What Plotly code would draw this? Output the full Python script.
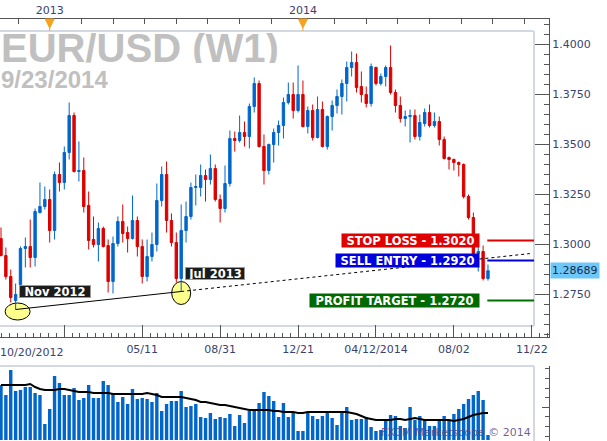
import plotly.graph_objects as go
import pandas as pd
import numpy as np

# ---------------- data ----------------
start = pd.Timestamp('2012-10-20')
dates = pd.date_range(start, periods=101, freq='7D')

opens = [1.3030, 1.2945, 1.2840, 1.2720, 1.2800, 1.2980, 1.2990, 1.2935, 1.3160, 1.3190,
         1.3225, 1.3070, 1.3350, 1.3310, 1.3460, 1.3645, 1.3365, 1.3370, 1.3195, 1.3025,
         1.3000, 1.3080, 1.2995, 1.2815, 1.3005, 1.3115, 1.3060, 1.3030, 1.3120, 1.2990,
         1.2840, 1.2940, 1.3000, 1.3220, 1.3350, 1.3120, 1.3010, 1.2830, 1.3070, 1.3140,
         1.3285, 1.3285, 1.3345, 1.3325, 1.3380, 1.3225, 1.3180, 1.3305, 1.3530, 1.3520,
         1.3560, 1.3540, 1.3690, 1.3805, 1.3490, 1.3370, 1.3500, 1.3560, 1.3595, 1.3710,
         1.3750, 1.3670, 1.3750, 1.3590, 1.3670, 1.3535, 1.3675, 1.3490, 1.3640, 1.3695,
         1.3740, 1.3805, 1.3885, 1.3910, 1.3790, 1.3750, 1.3705, 1.3885, 1.3805, 1.3840,
         1.3885, 1.3760, 1.3695, 1.3630, 1.3640, 1.3645, 1.3540, 1.3605, 1.3660, 1.3595,
         1.3615, 1.3525, 1.3435, 1.3425, 1.3410, 1.3400, 1.3240, 1.3135, 1.2955, 1.2965,
         1.2830]
highs = [1.3085, 1.2985, 1.2875, 1.2805, 1.2990, 1.3035, 1.3125, 1.3180, 1.3310, 1.3290,
         1.3275, 1.3365, 1.3410, 1.3490, 1.3710, 1.3660, 1.3515, 1.3435, 1.3265, 1.3140,
         1.3110, 1.3090, 1.3025, 1.3040, 1.3140, 1.3200, 1.3090, 1.3245, 1.3140, 1.3025,
         1.3025, 1.3060, 1.3305, 1.3390, 1.3415, 1.3155, 1.3060, 1.3200, 1.3215, 1.3310,
         1.3350, 1.3400, 1.3375, 1.3450, 1.3400, 1.3250, 1.3395, 1.3570, 1.3565, 1.3645,
         1.3615, 1.3705, 1.3835, 1.3820, 1.3550, 1.3505, 1.3580, 1.3620, 1.3735, 1.3810,
         1.3810, 1.3895, 1.3820, 1.3690, 1.3700, 1.3740, 1.3715, 1.3645, 1.3720, 1.3775,
         1.3825, 1.3915, 1.3965, 1.3955, 1.3865, 1.3790, 1.3905, 1.3890, 1.3855, 1.3895,
         1.3995, 1.3775, 1.3740, 1.3670, 1.3675, 1.3675, 1.3650, 1.3680, 1.3700, 1.3660,
         1.3640, 1.3540, 1.3440, 1.3430, 1.3415, 1.3405, 1.3250, 1.3160, 1.2990, 1.2995,
         1.2900]
lows = [1.2940, 1.2825, 1.2710, 1.2675, 1.2790, 1.2885, 1.2885, 1.2890, 1.3155, 1.3175,
        1.3010, 1.3025, 1.3265, 1.3275, 1.3425, 1.3360, 1.3315, 1.3160, 1.2975, 1.2985,
        1.2915, 1.2985, 1.2760, 1.2755, 1.2990, 1.3010, 1.2960, 1.3025, 1.2940, 1.2805,
        1.2815, 1.2915, 1.2965, 1.3190, 1.3060, 1.2990, 1.2810, 1.2765, 1.3010, 1.3125,
        1.3195, 1.3240, 1.3215, 1.3300, 1.3215, 1.3110, 1.3160, 1.3290, 1.3465, 1.3510,
        1.3490, 1.3480, 1.3660, 1.3485, 1.3300, 1.3350, 1.3410, 1.3495, 1.3530, 1.3700,
        1.3630, 1.3660, 1.3585, 1.3555, 1.3520, 1.3530, 1.3485, 1.3475, 1.3570, 1.3655,
        1.3650, 1.3715, 1.3840, 1.3760, 1.3710, 1.3685, 1.3690, 1.3795, 1.3795, 1.3790,
        1.3750, 1.3660, 1.3610, 1.3590, 1.3510, 1.3525, 1.3520, 1.3590, 1.3585, 1.3585,
        1.3495, 1.3425, 1.3375, 1.3370, 1.3340, 1.3230, 1.3125, 1.2945, 1.2865, 1.2820,
        1.2820]
closes = [1.2945, 1.2840, 1.2735, 1.2750, 1.2980, 1.2990, 1.2935, 1.3165, 1.3190, 1.3225,
          1.3070, 1.3350, 1.3310, 1.3460, 1.3645, 1.3365, 1.3370, 1.3190, 1.3020, 1.3000,
          1.3080, 1.2990, 1.2815, 1.3005, 1.3115, 1.3055, 1.3030, 1.3120, 1.2990, 1.2840,
          1.2940, 1.3000, 1.3220, 1.3350, 1.3120, 1.3010, 1.2830, 1.3070, 1.3140, 1.3285,
          1.3290, 1.3345, 1.3325, 1.3380, 1.3225, 1.3180, 1.3305, 1.3530, 1.3520, 1.3560,
          1.3540, 1.3690, 1.3805, 1.3490, 1.3370, 1.3500, 1.3560, 1.3595, 1.3710, 1.3750,
          1.3670, 1.3750, 1.3590, 1.3670, 1.3535, 1.3675, 1.3490, 1.3640, 1.3695, 1.3740,
          1.3805, 1.3885, 1.3910, 1.3785, 1.3750, 1.3705, 1.3890, 1.3805, 1.3840, 1.3885,
          1.3760, 1.3695, 1.3630, 1.3640, 1.3645, 1.3540, 1.3610, 1.3660, 1.3595, 1.3615,
          1.3525, 1.3430, 1.3425, 1.3410, 1.3400, 1.3240, 1.3135, 1.2955, 1.2965, 1.2830,
          1.28689]

volume = [55, 45, 70, 49, 50, 53, 53, 47, 45, 16, 31, 64, 57, 45, 45, 52, 40, 42, 55, 42,
          42, 59, 55, 46, 38, 43, 36, 51, 41, 42, 41, 38, 47, 29, 36, 39, 39, 49, 33, 34,
          36, 23, 22, 27, 21, 23, 22, 26, 14, 25, 17, 29, 29, 37, 48, 44, 39, 23, 37, 23,
          28, 9, 9, 28, 24, 21, 24, 27, 22, 15, 27, 33, 20, 21, 21, 23, 13, 9, 10, 20,
          25, 24, 14, 12, 33, 20, 24, 20, 14, 14, 20, 24, 20, 26, 31, 36, 41, 45, 49, 40,
          5]
volume_ma = [55, 55, 55, 55, 55, 55, 56, 53, 51, 50, 50, 50, 51, 51, 50, 49, 48, 48, 48, 47,
             47, 47, 47, 46, 46, 46, 46, 46, 46, 46, 47, 46, 45, 43, 43, 43, 43, 43, 42, 41,
             40, 38, 38, 37, 36, 35, 35, 34, 33, 32, 31, 30, 30, 30, 30, 30, 29, 29, 28, 28,
             28, 27, 27, 28, 28, 28, 28, 28, 28, 28, 28, 28, 27, 26, 24, 22, 21, 20, 20, 20,
             20, 21, 21, 20, 21, 22, 21, 20, 20, 20, 20, 20, 20, 19, 20, 21, 23, 25, 26, 27,
             27]

stop_loss = 1.3020
sell_entry = 1.2920
profit_target = 1.2720

x_tick_dates = ['2012-10-20', '2013-01-19', '2013-05-11', '2013-08-31', '2013-12-21',
                '2014-04-12', '2014-08-02', '2014-11-22']
x_tick_text = ['', '', '05/11', '08/31', '12/21', '04/12/2014', '08/02', '11/22']
first_label = '10/20/2012'
year_marks = ['2012-12-29', '2013-12-28']
year_labels = ['2013', '2014']

# ---------------- layout geometry ----------------
W, H = 607, 441
PLOT_R = 549.0
FRAME_R = 534.0
week = pd.Timedelta(days=7)
x_lo = start - 0.205 * week
x_hi = start + 112.53 * week


def py(y):
    return 1 - y / H


def px(x):
    return x / PLOT_R


price_range = [1.4 + (44.5 - 337) / 2000, 1.4 + (44.5 - 19) / 2000]
frame_end = x_lo + (x_hi - x_lo) * (FRAME_R / PLOT_R)
level_start = dates[-1] - pd.Timedelta(days=1)

BLUE = '#0066CC'
RED = '#DD0000'
AXC = '#555555'
TXT = '#3a4270'
FRAME = '#d3d9e2'
TICKFONT = dict(family='DejaVu Sans', size=11, color=TXT)

fig = go.Figure()

fig.add_trace(go.Candlestick(
    x=dates, open=opens, high=highs, low=lows, close=closes,
    increasing=dict(line=dict(color=BLUE, width=1), fillcolor=BLUE),
    decreasing=dict(line=dict(color=RED, width=1), fillcolor=RED),
    xaxis='x', yaxis='y', showlegend=False, hoverinfo='skip'))

# trend line between the two lows + dashed extension
i1, i2 = 3, 37
t1, t2 = dates[i1].value, dates[i2].value
slope = (lows[i2] - lows[i1]) / (t2 - t1)
trend_end = start + 108.6 * week
trend_end_y = lows[i2] + slope * (trend_end.value - t2)
fig.add_trace(go.Scatter(x=[dates[i1], dates[i2]], y=[lows[i1], lows[i2]], mode='lines',
                         line=dict(color='black', width=1), showlegend=False, hoverinfo='skip'))
fig.add_trace(go.Scatter(x=[dates[i2], trend_end], y=[lows[i2], trend_end_y], mode='lines',
                         line=dict(color='black', width=1, dash='3px,3px'),
                         showlegend=False, hoverinfo='skip'))

# level lines
for lvl, col in [(stop_loss, '#e00000'), (sell_entry, '#0000dd'), (profit_target, '#007000')]:
    fig.add_trace(go.Scatter(x=[level_start, frame_end], y=[lvl, lvl], mode='lines',
                             line=dict(color=col, width=2), showlegend=False, hoverinfo='skip'))

# invisible trace for top axis
fig.add_trace(go.Scatter(x=year_marks, y=[price_range[1]] * 2, mode='markers',
                         marker=dict(opacity=0), xaxis='x2', yaxis='y',
                         showlegend=False, hoverinfo='skip'))

# volume
fig.add_trace(go.Bar(x=dates, y=volume, marker=dict(color=BLUE, line=dict(width=0)),
                     width=0.7 * 7 * 86400000, xaxis='x3', yaxis='y3',
                     showlegend=False, hoverinfo='skip'))
fig.add_trace(go.Scatter(x=dates, y=volume_ma, mode='lines', line=dict(color='black', width=2),
                         xaxis='x3', yaxis='y3', showlegend=False, hoverinfo='skip'))

# ---------------- shapes ----------------
shapes = []
for (xa, ya, xb, yb) in [(0, 31, FRAME_R, 31), (FRAME_R, 31, FRAME_R, 326), (0, 326, FRAME_R, 326),
                         (0, 366, FRAME_R, 366), (FRAME_R, 366, FRAME_R, 441)]:
    shapes.append(dict(type='line', xref='paper', yref='paper', x0=px(xa), x1=px(xb),
                       y0=py(ya), y1=py(yb), line=dict(color=FRAME, width=2), layer='below'))
for idx, (xa, xb, ya, yb) in [(i1, (-10.5, 14.5, -10.5, 6.5)), (i2, (-9.5, 9.5, -13, 10))]:
    shapes.append(dict(type='circle', xref='x', yref='y', xsizemode='pixel', ysizemode='pixel',
                       xanchor=dates[idx], yanchor=lows[idx], x0=xa, x1=xb, y0=ya, y1=yb,
                       fillcolor='#ffff8c', line=dict(color='black', width=1), layer='below'))
for d in year_marks:
    shapes.append(dict(type='path', xref='x2', yref='paper', xsizemode='pixel', ysizemode='pixel',
                       xanchor=d, yanchor=py(19), path='M-4.5,0 L4.5,0 L0,-9 Z M0,-9 L0,-12',
                       fillcolor='#f7a21b', line=dict(color='#f7a21b', width=1)))

# ---------------- annotations ----------------
ann = []
ann.append(dict(text='EUR/USD (W1)', xref='paper', yref='paper', x=0, y=py(48), xanchor='left',
                yanchor='middle', showarrow=False, height=30, borderpad=0,
                font=dict(family='Liberation Sans', size=40, color='#c0c0c0', weight='bold')))
ann.append(dict(text='9/23/2014', xref='paper', yref='paper', x=0, y=py(79), xanchor='left',
                yanchor='middle', showarrow=False, height=18, borderpad=0,
                font=dict(family='Liberation Sans', size=24, color='#c0c0c0', weight='bold')))
for lvl, name, col, wdt in [(stop_loss, 'STOP LOSS', '#e00000', 137),
                            (sell_entry, 'SELL ENTRY', '#0000dd', 143),
                            (profit_target, 'PROFIT TARGET', '#006a00', 169)]:
    ann.append(dict(text=f'{name} - {lvl:.4f}', xref='x', yref='y', x=level_start, y=lvl,
                    xanchor='right', yanchor='middle', xshift=-7, showarrow=False,
                    bgcolor=col, width=wdt, height=13, borderpad=0,
                    font=dict(family='DejaVu Sans', size=11.5, color='white', weight='bold')))
for idx, label, wdt in [(i1, 'Nov 2012', 70), (i2, 'Jul 2013', 58)]:
    ann.append(dict(text=label, xref='x', yref='y', x=dates[idx], y=lows[idx],
                    xanchor='left', yanchor='bottom', xshift=3.5, yshift=12, showarrow=False,
                    bgcolor='#1c1c1c', bordercolor='#9a9a9a', borderwidth=1, borderpad=0,
                    width=wdt, height=11,
                    font=dict(family='DejaVu Sans', size=11.5, color='white', weight='bold')))
ann.append(dict(text=f'{closes[-1]:.5f}', xref='paper', yref='y', x=1, y=closes[-1],
                xanchor='left', yanchor='middle', xshift=1, showarrow=False,
                bgcolor='#6cc8f8', borderpad=1,
                font=dict(family='DejaVu Sans', size=11, color='#1a2a50')))
ann.append(dict(text=first_label, xref='x', yref='paper', x=start, y=py(352), xanchor='left',
                yanchor='middle', xshift=-3, showarrow=False, font=TICKFONT))
ann.append(dict(text='FXCM Marketscope © 2014', xref='paper', yref='paper', x=px(533),
                y=py(432.5), xanchor='right', yanchor='middle', showarrow=False,
                font=dict(family='DejaVu Sans', size=11, color='rgba(85,70,125,0.85)')))

ym0 = pd.Timestamp(year_marks[0])
step = pd.Timedelta(days=45.5)
top_ticks = [ym0 + k * step for k in range(-1, 16)]
top_text = ['' for _ in top_ticks]
top_text[1] = year_labels[0]
top_text[9] = year_labels[1]

fig.update_layout(
    width=W, height=H, autosize=False,
    margin=dict(l=0, r=W - PLOT_R, t=0, b=0, pad=0),
    paper_bgcolor='white', plot_bgcolor='white',
    showlegend=False, hovermode=False,
    shapes=shapes, annotations=ann,
    xaxis=dict(domain=[0, 1], range=[x_lo, x_hi], anchor='y', type='date',
               showline=True, linecolor=AXC, linewidth=1,
               ticks='inside', ticklen=12, tickcolor=AXC,
               tickmode='array', tickvals=x_tick_dates, ticktext=x_tick_text,
               tickfont=TICKFONT, ticklabelstandoff=2,
               minor=dict(ticks='inside', ticklen=4, tickcolor=AXC,
                          tick0='2013-01-19', dtick=1.6 * 7 * 86400000),
               showgrid=False, zeroline=False, rangeslider=dict(visible=False), fixedrange=True),
    xaxis2=dict(overlaying='x', side='top', anchor='y', range=[x_lo, x_hi], type='date',
                showline=True, linecolor=AXC, linewidth=1,
                ticks='inside', ticklen=5, tickcolor=AXC,
                tickmode='array', tickvals=top_ticks, ticktext=top_text,
                tickfont=TICKFONT, showgrid=False, zeroline=False),
    yaxis=dict(domain=[py(337), py(19)], range=price_range, anchor='x', side='right',
               showline=True, linecolor=AXC, linewidth=1,
               ticks='inside', ticklen=14, tickcolor=AXC,
               tick0=1.275, dtick=0.025, tickformat='.4f', tickfont=TICKFONT,
               minor=dict(ticks='inside', ticklen=5, tickcolor=AXC, dtick=0.005),
               showgrid=False, zeroline=False, fixedrange=True),
    xaxis3=dict(domain=[0, 1], anchor='y3', matches='x', visible=False),
    yaxis3=dict(domain=[0, py(366)], range=[-1, 74], anchor='x3', side='right',
                showline=True, linecolor=AXC, linewidth=1,
                ticks='inside', ticklen=7, tickcolor=AXC, tickmode='array', tickvals=[33],
                showticklabels=False,
                minor=dict(ticks='inside', ticklen=4, tickcolor=AXC, tick0=4, dtick=9.6),
                showgrid=False, zeroline=False, fixedrange=True),
)

fig.write_html('out.html', config={'displayModeBar': False, 'staticPlot': True},
               post_script="document.body.style.margin='0';document.body.style.padding='0';"
                           "document.body.style.overflow='hidden';")
